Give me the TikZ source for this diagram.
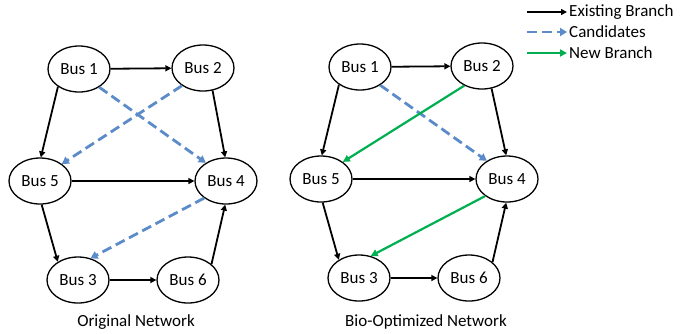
\documentclass[tikz,border=0pt]{standalone}
\usepackage{fontspec}
\setmainfont{Carlito}
\usetikzlibrary{shapes.geometric}
\usetikzlibrary{arrows.meta}
\definecolor{candblue}{HTML}{5B8BC8}
\definecolor{newgreen}{HTML}{00B050}

\begin{document}
\begin{tikzpicture}[x=1pt,y=-1pt,font=\fontsize{17}{20}\selectfont]
    \tikzstyle bus=[draw,ellipse,line width=1.3pt,minimum width=62pt,minimum height=46pt,inner sep=0pt]
    \tikzstyle existing=[line width=1.8pt,black,-{Triangle[length=6pt,width=6pt]}]
    \tikzstyle candidate=[line width=2.8pt,candblue,dash pattern=on 10pt off 5pt,-{Triangle[length=7pt,width=8pt]}]
    \tikzstyle newbranch=[line width=2.2pt,newgreen,-{Triangle[length=7pt,width=7pt]}]
    \tikzstyle legendtext=[anchor=west,inner sep=2pt]
    \useasboundingbox (0,0) rectangle (692,333);
    % original network
    \node[bus] (bus1) at (79,69) {Bus 1};
    \node[bus] (bus2) at (203,68) {Bus 2};
    \node[bus] (bus5) at (40,181) {Bus 5};
    \node[bus] (bus4) at (226,181) {Bus 4};
    \node[bus] (bus3) at (78,280) {Bus 3};
    \node[bus] (bus6) at (188,280) {Bus 6};
    \draw[existing] (bus1) -- (bus2);
    \draw[existing] (bus1.220) -- (bus5.88);
    \draw[existing] (bus2.293) -- (bus4.92);
    \draw[existing] (bus5) -- (bus4);
    \draw[existing] (bus5.274) -- (bus3.138);
    \draw[existing] (bus3) -- (bus6);
    \draw[existing] (bus6.34) -- (bus4.268);
    \draw[candidate] (bus1.318) -- (bus4.138);
    \draw[candidate] (bus2.220) -- (bus5.38);
    \draw[candidate] (bus4.218) -- (bus3.60);
    \node (origtitle) at (136,322) {Original Network};
    % bio-optimized network
    \begin{scope}[shift={(281,-2)}]
    \node[bus] (optbus1) at (79,69) {Bus 1};
    \node[bus] (optbus2) at (201,68) {Bus 2};
    \node[bus] (optbus5) at (40,181) {Bus 5};
    \node[bus] (optbus4) at (226,181) {Bus 4};
    \node[bus] (optbus3) at (78,280) {Bus 3};
    \node[bus] (optbus6) at (188,280) {Bus 6};
    \draw[existing] (optbus1) -- (optbus2);
    \draw[existing] (optbus1.220) -- (optbus5.88);
    \draw[existing] (optbus2.293) -- (optbus4.92);
    \draw[existing] (optbus5) -- (optbus4);
    \draw[existing] (optbus5.274) -- (optbus3.138);
    \draw[existing] (optbus3) -- (optbus6);
    \draw[existing] (optbus6.34) -- (optbus4.268);
    \draw[candidate] (optbus1.318) -- (optbus4.138);
    \draw[newbranch] (optbus2.228) -- (optbus5.38);
    \draw[newbranch] (optbus4.218) -- (optbus3.62);
    \node (opttitle) at (145,324) {Bio-Optimized Network};
    \end{scope}
    % legend
    \coordinate (legexisting) at (527,12);
    \coordinate (legcandidate) at (527,32);
    \coordinate (legnew) at (527,53);
    \node[legendtext] (legexistingtext) at (567,12) {Existing Branch};
    \node[legendtext] (legcandidatetext) at (567,32) {Candidates};
    \node[legendtext] (legnewtext) at (567,53) {New Branch};
    \draw[existing] (legexisting) -- (legexistingtext.west);
    \draw[candidate] (legcandidate) -- (legcandidatetext.west);
    \draw[newbranch] (legnew) -- (legnewtext.west);
\end{tikzpicture}
\end{document}
